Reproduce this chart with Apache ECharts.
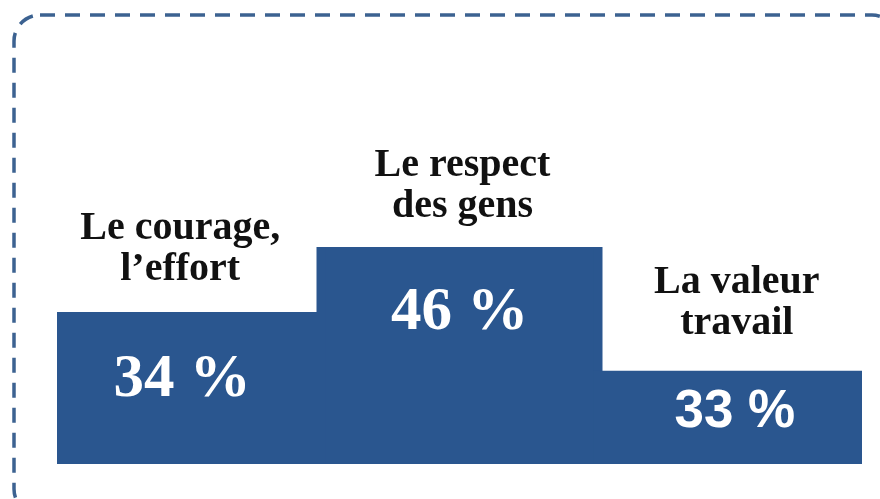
<!DOCTYPE html>
<html>
<head>
<meta charset="utf-8">
<script src="https://cdn.jsdelivr.net/npm/echarts@6/dist/echarts.min.js"></script>
<style>
  html, body { margin: 0; padding: 0; background: #fff; }
  #chart { width: 880px; height: 499px; }
</style>
</head>
<body>
<div id="chart"></div>
<script>
// podium steps
const categories = ["Le courage,\nl’effort", "Le respect\ndes gens", "La valeur\ntravail"];
const shares = [34, 46, 33];
const stepHeights = [70, 100, 43]; // step height, % of the tallest step

const BLUE = "#2a568f";
const SERIF = "'Liberation Serif', 'DejaVu Serif', serif";
const SANS = "'Liberation Sans', Arial, sans-serif";

// label tweaks per step
const nameDist = [22, 20, 27];
const nameDx = [-11, 3, 9];
const pctDist = [38, 36, 15];
const pctDx = [-9, 0, 7];
const pctFont = [
  { fontFamily: SERIF, fontSize: 61, lineHeight: 60 },
  { fontFamily: SERIF, fontSize: 61, lineHeight: 60 },
  { fontFamily: SANS, fontSize: 53, lineHeight: 53 }
];

const chart = echarts.init(document.getElementById("chart"));

chart.setOption({
  animation: false,
  graphic: [
    {
      type: "rect",
      shape: { x: 14, y: 15, width: 884, height: 500, r: 26 },
      style: { fill: "none", stroke: "#3c6291", lineWidth: 3.5, lineDash: [15, 10] },
      silent: true
    }
  ],
  grid: { left: 57, right: 18, top: 247, bottom: 35 },
  xAxis: [
    { type: "category", data: categories, show: false },
    { type: "category", data: categories, show: false }
  ],
  yAxis: { type: "value", min: 0, max: 100, show: false },
  series: [
    {
      // wider middle step
      type: "bar",
      xAxisIndex: 1,
      barWidth: 286,
      itemStyle: { color: BLUE },
      data: stepHeights.map((v, i) => (i === 1 ? v : "-"))
    },
    {
      type: "bar",
      xAxisIndex: 0,
      barCategoryGap: "0%",
      barGap: "-100%",
      itemStyle: { color: BLUE },
      label: {
        show: true,
        position: "top",
        formatter: "{b}",
        fontFamily: SERIF,
        fontWeight: "bold",
        fontSize: 40,
        lineHeight: 41,
        color: "#111"
      },
      data: stepHeights.map((v, i) => ({
        value: v,
        label: { distance: nameDist[i], offset: [nameDx[i], 0] }
      }))
    },
    {
      type: "bar",
      xAxisIndex: 0,
      barCategoryGap: "0%",
      barGap: "-100%",
      itemStyle: { color: "transparent" },
      label: {
        show: true,
        position: "insideTop",
        formatter: p => shares[p.dataIndex] + " %",
        fontWeight: "bold",
        color: "#fff"
      },
      data: stepHeights.map((v, i) => ({
        value: v,
        label: Object.assign({ distance: pctDist[i], offset: [pctDx[i], 0] }, pctFont[i])
      }))
    }
  ]
});
</script>
</body>
</html>
